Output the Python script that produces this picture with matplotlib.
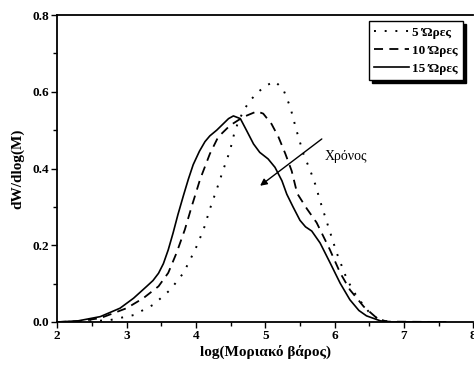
import matplotlib
matplotlib.use("Agg")
import matplotlib.pyplot as plt
from matplotlib.ticker import MultipleLocator

plt.rcParams['font.family'] = ['Liberation Serif', 'DejaVu Serif']

# 5 hours (dotted)
x5 = [2.0, 2.4, 2.76, 3.1, 3.385, 3.63, 3.82, 3.99, 4.11, 4.2, 4.3, 4.4, 4.49, 4.55,
      4.61, 4.7, 4.78, 4.9, 5.02, 5.14, 5.26, 5.36, 5.45, 5.55, 5.65, 5.72, 5.8, 5.89,
      6.03, 6.18, 6.32, 6.49, 6.63, 6.8, 7.6]
y5 = [0.0, 0.001, 0.005, 0.018, 0.045, 0.084, 0.128, 0.189, 0.241, 0.294, 0.346, 0.4,
      0.446, 0.49, 0.522, 0.555, 0.577, 0.6, 0.617, 0.627, 0.606, 0.56, 0.499, 0.438,
      0.394, 0.359, 0.31, 0.259, 0.18, 0.11, 0.066, 0.027, 0.007, 0.0, 0.0]

# 10 hours (dashed)
x10 = [2.0, 2.3, 2.62, 3.0, 3.24, 3.46, 3.6, 3.72, 3.84, 3.94, 4.06, 4.2, 4.32, 4.49,
       4.68, 4.88, 4.97, 5.09, 5.19, 5.29, 5.38, 5.46, 5.6, 5.74, 5.93, 6.08, 6.22, 6.42,
       6.61, 6.75, 7.6]
y10 = [0.0, 0.002, 0.01, 0.036, 0.062, 0.093, 0.128, 0.18, 0.241, 0.302, 0.372, 0.438,
       0.482, 0.512, 0.534, 0.549, 0.543, 0.516, 0.482, 0.438, 0.394, 0.335, 0.295,
       0.259, 0.189, 0.128, 0.084, 0.04, 0.01, 0.001, 0.0]

# 15 hours (solid)
x15 = [2.0, 2.3, 2.62, 2.905, 3.1, 3.29, 3.38, 3.46, 3.53, 3.6, 3.67, 3.74, 3.82, 3.89,
       3.96, 4.05, 4.13, 4.2, 4.3, 4.47, 4.54, 4.64, 4.73, 4.83, 4.92, 5.04, 5.14, 5.24,
       5.31, 5.4, 5.5, 5.58, 5.67, 5.79, 5.935, 6.08, 6.22, 6.35, 6.46, 6.66, 6.8, 7.6]
y15 = [0.0, 0.003, 0.014, 0.036, 0.062, 0.093, 0.108, 0.127, 0.152, 0.188, 0.232, 0.28,
       0.33, 0.372, 0.41, 0.445, 0.47, 0.485, 0.5, 0.53, 0.537, 0.53, 0.499, 0.464,
       0.442, 0.425, 0.403, 0.368, 0.333, 0.3, 0.265, 0.248, 0.237, 0.206, 0.154, 0.101,
       0.058, 0.03, 0.016, 0.003, 0.0, 0.0]

labels = ['5 Ώρες', '10 Ώρες', '15 Ώρες']
xticks = [2, 3, 4, 5, 6, 7, 8]
yticks = [0.0, 0.2, 0.4, 0.6, 0.8]

fig = plt.figure(figsize=(4.74, 3.65), dpi=100)
ax = fig.add_axes([57.3 / 474, 1 - 322 / 365, (473.3 - 57.3) / 474, (322 - 15) / 365])

ax.plot(x5, y5, color='black', lw=1.4, linestyle=(0, (1, 4.5)), label=labels[0])
ax.plot(x10, y10, color='black', lw=1.3, linestyle=(0, (5, 3.5)), label=labels[1])
ax.plot(x15, y15, color='black', lw=1.2, linestyle='-', label=labels[2])

ax.set_xlim(2, 8)
ax.set_ylim(0, 0.8)
ax.set_xticks(xticks)
ax.set_xticklabels([str(t) for t in xticks])
ax.set_yticks(yticks)
ax.set_yticklabels([f'{t:.1f}' for t in yticks])
ax.xaxis.set_minor_locator(MultipleLocator(0.5))
ax.yaxis.set_minor_locator(MultipleLocator(0.1))
ax.tick_params(which='both', direction='out', width=1.0, labelsize=9.5, pad=2)
ax.tick_params(which='major', length=4)
ax.tick_params(which='minor', length=3)
ax.tick_params(axis='x', top=False)
for lbl in ax.get_xticklabels() + ax.get_yticklabels():
    lbl.set_fontweight('bold')
for s in ['left', 'bottom', 'top']:
    ax.spines[s].set_linewidth(1.3)
ax.spines['right'].set_visible(False)

ax.set_xlabel('log(Μοριακό βάρος)', fontsize=11, fontweight='bold', labelpad=2)
ax.set_ylabel('dW/dlog(M)', fontsize=11, fontweight='bold', labelpad=6)

ax.annotate('', xy=(4.925, 0.355), xytext=(5.815, 0.477),
            arrowprops=dict(arrowstyle='-|>', color='black', lw=1.0,
                            mutation_scale=10, shrinkA=0, shrinkB=0))
ax.text(5.86, 0.432, 'Χρόνος', fontsize=10, va='center', ha='left')

leg = ax.legend(loc='upper right', bbox_to_anchor=(463 / 474, 1 - 21 / 365),
                bbox_transform=fig.transFigure, fancybox=False,
                shadow={'color': 'black', 'alpha': 1.0}, framealpha=1,
                edgecolor='black', handlelength=2.6, handletextpad=0.25,
                labelspacing=0.45, borderpad=0.4, borderaxespad=0,
                prop={'weight': 'bold', 'size': 9.5})
leg.get_frame().set_linewidth(1.0)

fig.savefig('out.png', dpi=100)
